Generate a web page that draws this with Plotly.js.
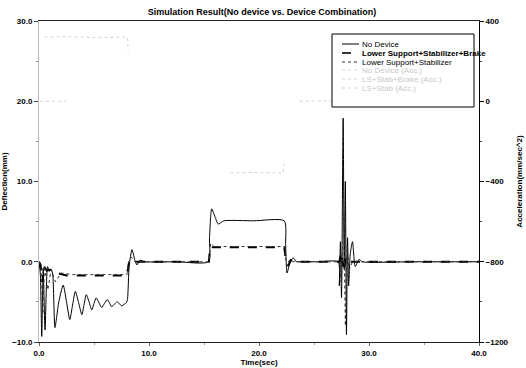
<!DOCTYPE html>
<html><head><meta charset="utf-8">
<script src="https://cdn.plot.ly/plotly-3.0.1.min.js"></script>
<style>html,body{margin:0;padding:0;background:#fff}#chart{width:526px;height:368px}</style>
</head><body><div id="chart"></div>
<script>
// ---- data ----
const chartTitle = "Simulation Result(No device vs. Device Combination)";
const xTitle = "Time(sec)";
const yTitle = "Deflection(mm)";
const y2Title = "Acceleration(mm/sec^2)";
const seriesNames = ["No Device", "Lower Support+Stabilizer+Brake", "Lower Support+Stabilizer",
                     "No Device (Acc.)", "LS+Stab+Brake (Acc.)", "LS+Stab (Acc.)"];

const tNoDev = [0,0.12,0.25,0.38,0.55,0.78,0.95,1.1,1.25,1.45,1.8,2.2,2.5,2.8,3.05,3.3,3.6,3.9,4.1,4.3,4.55,4.8,5.0,5.2,5.45,5.7,5.95,6.2,6.4,6.6,6.85,7.1,7.3,7.5,7.75,7.95,8.05,8.2,8.45,8.7,8.9,9.2,9.6,12.5,15.4,15.5,15.7,16.0,16.3,16.8,19.5,22.3,22.42,22.55,22.8,23.1,23.4,23.8,25.5,27.2,27.3,27.4,27.5,27.65,27.75,27.85,27.95,28.05,28.15,28.3,28.5,28.75,29.1,29.4,34,40];
const vNoDev = [0,-1.5,-9.3,-0.8,-8.5,-0.6,-1.2,-0.9,-1.6,-8.2,-5.0,-2.9,-5.0,-7.2,-5.4,-3.7,-5.1,-6.6,-5.3,-4.1,-5.0,-6.0,-5.2,-4.5,-5.1,-5.7,-5.2,-4.7,-5.1,-5.6,-5.3,-5.0,-5.2,-5.5,-5.3,-5.1,-4.6,-0.5,1.5,0.3,-0.4,0.2,0.0,0.0,0.0,3.0,6.6,5.6,4.7,5.1,5.1,5.1,2.0,-1.4,-0.2,0.5,0.0,0.0,0.0,0.0,-3.0,2.5,-4.5,17.9,-1.0,10.0,-9.1,3.0,-3.0,1.0,2.5,-0.6,0.3,0.0,0.0,0.0];

const tBrake = [0,0.15,0.3,0.45,0.7,1.0,1.3,1.8,2.5,5.0,8.0,8.15,8.35,8.6,15.45,15.55,15.75,22.3,22.45,22.65,22.9,23.2,27.3,27.5,27.7,27.9,28.2,40];
const vBrake = [0,-0.4,-2.5,-0.6,-1.1,-1.0,-1.3,-1.5,-1.7,-1.7,-1.7,-0.3,0.2,0.0,0.0,1.9,1.8,1.8,0.0,-0.5,0.2,0.0,0.0,1.2,-1.2,0.6,0.0,0.0];

const tStab = [0,0.2,0.35,0.5,0.8,1.1,1.5,2.0,3.0,8.0,8.15,8.4,8.7,15.45,15.6,15.9,22.3,22.5,22.8,23.1,27.3,27.5,27.7,27.85,28.0,28.2,28.5,40];
const vStab = [0,-1.0,-6.5,-0.5,-3.5,-1.0,-2.5,-1.4,-1.6,-1.6,0.0,0.6,0.0,0.0,2.3,1.9,1.9,-0.5,0.3,0.0,0.0,-3.0,6.0,-8.0,2.0,-1.0,0.0,0.0];

const tAccNo = [0.5,2.5,5.0,7.9,8.05,8.1];
const vAccNo = [320,322,318,320,320,250];
const tAccBrake = [17.4,19.5,21.5,22.2,22.25];
const vAccBrake = [-357,-355,-357,-357,-310];
const tAccStab = [0.1,1.5,2.5,null,23.7,25.5,27.3];
const vAccStab = [0,2,0,null,0,2,0];

const xTicks = [0,10,20,30,40];
const yTicks = [-10,0,10,20,30];
const y2Ticks = [-1200,-800,-400,0,400];

// ---- layout helpers ----
const FONT = "Liberation Sans Narrow, Arial Narrow, Liberation Sans, Arial, sans-serif";
const L = 39, R = 479, T = 21, B = 342;
const px = x => (x - L) / (R - L);
const py = y => (B - y) / (B - T);

const traces = [
  {x:tNoDev, y:vNoDev, name:seriesNames[0], mode:'lines', line:{color:'#000', width:1, shape:'spline', smoothing:0.6}},
  {x:tBrake, y:vBrake, name:seriesNames[1], mode:'lines', line:{color:'#000', width:2, dash:'dash'}},
  {x:tStab, y:vStab, name:seriesNames[2], mode:'lines', line:{color:'#333', width:1, dash:'dot'}},
  {x:tAccNo, y:vAccNo, name:seriesNames[3], yaxis:'y2', mode:'lines', line:{color:'#d4d4d4', width:1, dash:'dot'}},
  {x:tAccBrake, y:vAccBrake, name:seriesNames[4], yaxis:'y2', mode:'lines', line:{color:'#d4d4d4', width:1, dash:'dot'}},
  {x:tAccStab, y:vAccStab, name:seriesNames[5], yaxis:'y2', mode:'lines', line:{color:'#d4d4d4', width:1, dash:'dot'}}
];

// custom compact legend
const legRows = [44,53,62,70,79,88];
const legStyles = [
  {color:'#000', width:1, dash:'solid'},
  {color:'#000', width:1.6, dash:'dash'},
  {color:'#333', width:1, dash:'dot'},
  {color:'#d4d4d4', width:1, dash:'dot'},
  {color:'#d4d4d4', width:1, dash:'dot'},
  {color:'#d4d4d4', width:1, dash:'dot'}
];
const shapes = [{type:'rect', xref:'paper', yref:'paper', x0:px(332), x1:px(474), y0:py(107), y1:py(34),
                 line:{color:'#000', width:1}, fillcolor:'#fff', layer:'above'}];
const annotations = [];
legRows.forEach((ry, i) => {
  shapes.push({type:'line', xref:'paper', yref:'paper', x0:px(342), x1:px(359), y0:py(ry), y1:py(ry),
               line:legStyles[i], layer:'above'});
  annotations.push({xref:'paper', yref:'paper', x:px(360), y:py(ry), xanchor:'left', yanchor:'middle',
                    text:seriesNames[i], showarrow:false,
                    font:{family:FONT, size:8, color: i < 3 ? '#000' : '#c8c8c8', weight: i===1 ? 'bold' : 'normal'}});
});

const layout = {
  width:526, height:368,
  margin:{l:L, r:526-R, t:T, b:368-B},
  paper_bgcolor:'#fff', plot_bgcolor:'#fff',
  showlegend:false,
  title:{text:chartTitle, x:px(262), xref:'paper', y:1-12/368, yref:'container', yanchor:'middle',
         font:{family:FONT, size:9, color:'#000', weight:'bold'}},
  font:{family:FONT, size:8, color:'#000'},
  xaxis:{range:[0,40], tickvals:xTicks, tickformat:'.1f', showgrid:false, zeroline:false,
         showline:true, mirror:true, linecolor:'#222', linewidth:1,
         ticks:'outside', ticklen:3, tickcolor:'#666',
         minor:{dtick:5, ticks:'outside', ticklen:2, tickcolor:'#999'},
         tickfont:{family:FONT, size:8, weight:'bold'},
         title:{text:xTitle, standoff:2, font:{family:FONT, size:8, weight:'bold'}}},
  yaxis:{range:[-10,30], tickvals:yTicks, tickformat:'.1f', showgrid:false, zeroline:false,
         showline:true, linecolor:'#bbb', ticks:'outside', ticklen:4, tickcolor:'#444',
         minor:{dtick:5, ticks:'outside', ticklen:2, tickcolor:'#888'},
         tickfont:{family:FONT, size:8, weight:'bold'},
         title:{text:yTitle, standoff:6, font:{family:FONT, size:8, weight:'bold'}}},
  yaxis2:{range:[-1200,400], tickvals:y2Ticks, overlaying:'y', side:'right', showgrid:false, zeroline:false,
          showline:true, linecolor:'#000', linewidth:1, ticks:'outside', ticklen:4, tickcolor:'#000',
          minor:{dtick:200, ticks:'outside', ticklen:2, tickcolor:'#444'},
          tickfont:{family:FONT, size:8, weight:'bold'},
          title:{text:y2Title, standoff:8, font:{family:FONT, size:8, weight:'bold'}}},
  shapes:shapes,
  annotations:annotations
};

Plotly.newPlot('chart', traces, layout, {displayModeBar:false, staticPlot:true});
</script></body></html>
